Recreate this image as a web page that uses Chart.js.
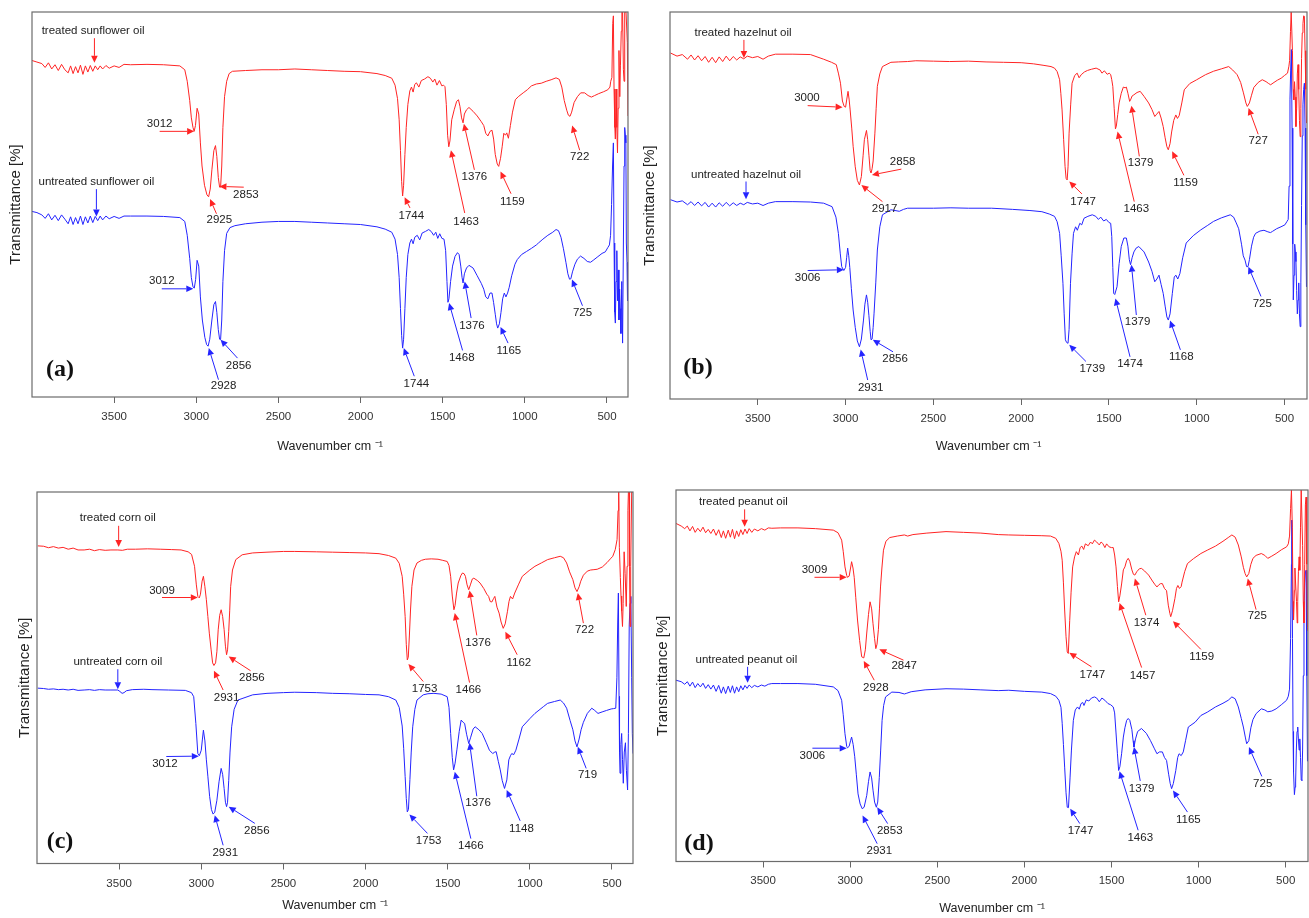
<!DOCTYPE html>
<html><head><meta charset="utf-8">
<script src="https://cdn.jsdelivr.net/npm/chart.js@4.4.1/dist/chart.umd.min.js"></script>
<style>
html,body{margin:0;padding:0;background:#fff;}
body{width:1309px;height:918px;position:relative;overflow:hidden;}
canvas{position:absolute;}
</style></head><body>
<canvas id="pa"></canvas><canvas id="pb"></canvas><canvas id="pc"></canvas><canvas id="pd"></canvas>
<script>
// ---------- axis ----------
const X_TICKS = [500, 1000, 1500, 2000, 2500, 3000, 3500];
const X_MIN = 372, X_MAX = 4000;

// ---------- panel (a) sunflower ----------
const aTreatedName = 'treated sunflower oil';
const aUntreatedName = 'untreated sunflower oil';
const aTreatedPeaks = ['3012','2925','2853','1744','1463','1376','1159','722'];
const aUntreatedPeaks = ['3012','2928','2856','1744','1468','1376','1165','725'];
const aTreated = [[4000,87.4],[3970,87.0],[3940,86.6],[3920,85.6],[3900,86.8],[3880,85.2],[3860,86.3],[3840,84.8],[3820,86.4],[3800,85.0],[3780,84.2],[3765,86.0],[3750,84.0],[3735,85.8],[3720,84.2],[3705,86.2],[3690,83.8],[3675,86.0],[3660,84.4],[3645,86.1],[3630,84.6],[3615,86.0],[3600,85.0],[3585,86.0],[3570,85.2],[3550,86.1],[3530,85.4],[3500,86.0],[3470,85.6],[3440,86.4],[3400,86.3],[3300,86.4],[3200,86.3],[3100,86.0],[3070,85.0],[3055,82.0],[3040,77.0],[3030,72.5],[3020,70.0],[3013,69.0],[3005,70.5],[2995,75.0],[2985,73.5],[2975,66.0],[2965,60.0],[2950,55.0],[2935,52.5],[2925,52.0],[2915,54.0],[2905,59.0],[2893,64.0],[2883,65.3],[2875,62.5],[2866,57.0],[2858,54.5],[2852,54.5],[2845,60.0],[2838,70.0],[2828,78.0],[2815,82.0],[2800,84.0],[2780,84.6],[2700,84.8],[2600,85.0],[2500,85.0],[2400,85.2],[2300,85.0],[2200,84.8],[2100,84.6],[2000,84.5],[1900,84.0],[1850,83.5],[1810,82.8],[1790,81.0],[1775,77.5],[1765,72.0],[1757,64.0],[1750,56.0],[1744,52.2],[1738,55.0],[1730,63.0],[1722,70.0],[1712,76.0],[1700,79.5],[1690,80.5],[1680,79.2],[1670,81.2],[1660,81.6],[1645,80.5],[1630,82.2],[1610,82.6],[1590,83.2],[1575,82.8],[1560,81.8],[1548,82.6],[1535,81.0],[1520,82.2],[1505,80.8],[1495,81.0],[1486,80.6],[1478,76.0],[1470,68.0],[1463,65.0],[1456,66.5],[1445,72.0],[1430,74.6],[1415,76.8],[1404,77.2],[1395,75.5],[1385,72.5],[1376,71.2],[1368,73.5],[1355,74.6],[1340,75.2],[1315,74.2],[1290,73.0],[1265,71.5],[1250,70.5],[1238,68.5],[1225,67.8],[1212,69.0],[1200,69.3],[1190,67.0],[1180,63.0],[1168,60.5],[1159,59.9],[1148,62.0],[1138,65.0],[1128,68.5],[1118,68.0],[1110,68.6],[1100,67.2],[1088,70.5],[1075,74.0],[1058,77.2],[1040,78.0],[1010,79.0],[985,79.8],[960,80.8],[930,81.3],[900,81.5],[870,82.0],[840,82.4],[810,82.9],[790,82.5],[775,80.5],[760,77.0],[745,74.5],[735,73.2],[725,72.9],[715,74.0],[700,76.5],[680,78.0],[660,79.0],[636,79.0],[615,78.3],[595,77.9],[575,78.3],[550,78.8],[520,79.3],[495,79.8],[482,80.5],[477,82.0],[470,83.0],[465,97.0],[461,99.0],[457,80.0],[452,70.0],[449,67.0],[444,80.0],[440,70.0],[436,63.4],[432,75.0],[427,90.0],[422,78.0],[418,86.0],[413,95.0],[409,100],[405,100],[400,85.0],[396,82.0],[392,100],[388,100],[384,100],[380,100],[376,92.0],[372,73.0]];
const aUntreated = [[4000,48.2],[3970,47.9],[3940,47.3],[3920,46.4],[3900,47.6],[3880,46.0],[3860,47.2],[3840,45.8],[3820,47.3],[3800,46.2],[3780,45.0],[3765,46.8],[3750,44.8],[3735,46.6],[3720,45.0],[3705,47.0],[3690,44.8],[3675,46.8],[3660,45.2],[3645,47.0],[3630,45.3],[3615,46.9],[3600,45.8],[3585,47.0],[3570,46.0],[3550,47.0],[3530,46.3],[3500,46.9],[3470,46.4],[3440,47.0],[3400,47.0],[3300,47.0],[3200,46.9],[3100,46.6],[3070,45.6],[3055,42.0],[3040,36.0],[3030,31.0],[3020,28.6],[3012,28.3],[3004,30.5],[2995,35.5],[2985,34.0],[2975,26.0],[2963,20.0],[2948,15.5],[2937,13.6],[2928,13.2],[2918,15.0],[2905,20.0],[2893,24.0],[2883,24.8],[2875,22.0],[2866,17.5],[2858,15.0],[2852,14.9],[2845,20.0],[2838,30.0],[2828,38.0],[2815,42.5],[2795,44.0],[2765,44.5],[2700,45.0],[2600,45.4],[2500,45.6],[2400,45.6],[2300,45.4],[2200,45.2],[2100,45.0],[2000,44.8],[1900,44.2],[1850,43.6],[1810,42.8],[1790,41.0],[1775,37.0],[1765,31.0],[1757,23.0],[1750,16.0],[1744,12.7],[1738,15.0],[1730,23.0],[1722,31.0],[1712,37.0],[1700,40.0],[1690,41.0],[1680,39.8],[1670,41.5],[1655,42.0],[1640,40.8],[1625,42.6],[1605,43.0],[1585,43.5],[1570,43.0],[1555,42.0],[1542,42.8],[1530,41.2],[1518,42.4],[1505,41.2],[1492,41.0],[1482,38.0],[1474,30.0],[1468,24.6],[1462,25.5],[1452,30.0],[1440,34.0],[1425,36.5],[1410,37.5],[1400,37.0],[1390,34.0],[1382,31.0],[1376,29.6],[1368,32.0],[1355,33.5],[1340,34.2],[1315,33.5],[1290,31.5],[1265,29.5],[1250,28.0],[1238,26.0],[1225,25.5],[1212,27.0],[1200,27.0],[1190,24.5],[1180,21.5],[1172,19.0],[1165,17.9],[1155,19.0],[1145,22.0],[1135,25.5],[1125,27.0],[1115,26.0],[1105,27.0],[1095,28.5],[1080,31.5],[1060,34.5],[1046,35.7],[1020,37.0],[990,37.8],[960,38.6],[930,39.5],[917,40.0],[890,41.0],[860,42.0],[830,42.8],[810,43.5],[795,43.2],[780,41.5],[765,38.5],[750,35.0],[738,32.0],[728,30.6],[720,30.7],[710,32.5],[695,34.5],[680,35.8],[661,36.6],[640,36.0],[620,35.2],[600,35.0],[584,35.5],[560,36.3],[530,37.3],[510,37.7],[495,38.8],[485,39.5],[478,42.0],[472,50.0],[466,60.0],[461,66.0],[457,40.0],[453,22.0],[449,19.2],[445,30.0],[440,38.0],[436,25.0],[431,33.0],[427,20.0],[423,28.0],[419,23.0],[415,16.5],[410,30.0],[405,14.0],[400,40.0],[396,60.0],[392,70.0],[388,68.0],[385,66.0],[382,40.0],[378,35.0],[375,25.0],[372,26.0]];

// ---------- panel (b) hazelnut ----------
const bTreatedName = 'treated hazelnut oil';
const bUntreatedName = 'untreated hazelnut oil';
const bTreatedPeaks = ['3000','2917','2858','1747','1463','1379','1159','727'];
const bUntreatedPeaks = ['3006','2931','2856','1739','1474','1379','1168','725'];
const bTreated = [[3997,89.4],[3960,88.6],[3930,89.0],[3900,87.8],[3880,88.9],[3860,87.6],[3840,88.7],[3820,87.4],[3800,88.5],[3780,87.0],[3760,88.3],[3740,86.9],[3720,88.4],[3700,87.2],[3680,88.6],[3660,87.4],[3640,88.5],[3620,87.6],[3600,88.4],[3580,87.9],[3560,88.6],[3530,88.2],[3500,88.5],[3470,87.8],[3440,88.6],[3400,89.1],[3300,89.1],[3200,89.0],[3125,87.8],[3080,87.0],[3053,86.4],[3040,84.0],[3029,81.6],[3018,77.0],[3008,75.6],[3000,75.4],[2993,77.5],[2986,79.5],[2980,77.5],[2974,74.7],[2965,70.0],[2957,65.3],[2945,60.0],[2933,56.5],[2921,55.3],[2910,57.5],[2900,63.0],[2893,67.0],[2881,69.4],[2874,67.0],[2867,63.0],[2860,59.0],[2855,58.4],[2849,59.5],[2843,61.5],[2833,68.7],[2826,75.0],[2819,80.8],[2805,84.0],[2790,85.9],[2742,87.0],[2700,87.1],[2647,87.2],[2600,87.4],[2500,87.3],[2407,87.2],[2300,87.3],[2200,87.1],[2100,87.0],[2000,86.9],[1929,86.6],[1870,86.2],[1830,85.9],[1810,85.5],[1795,84.6],[1781,82.5],[1774,79.0],[1767,74.7],[1758,67.0],[1750,60.1],[1744,57.0],[1738,56.6],[1733,60.0],[1727,68.7],[1718,76.0],[1710,81.6],[1695,83.6],[1681,84.2],[1670,83.0],[1658,83.8],[1640,84.5],[1622,84.9],[1600,85.2],[1573,85.5],[1550,85.0],[1540,84.2],[1526,84.8],[1510,83.9],[1498,84.2],[1490,83.8],[1484,82.5],[1478,80.8],[1470,75.0],[1463,69.8],[1458,70.5],[1450,73.5],[1442,76.5],[1430,79.0],[1418,80.6],[1408,80.4],[1401,80.6],[1392,79.0],[1382,76.9],[1375,77.5],[1368,78.3],[1358,78.6],[1340,79.2],[1322,79.5],[1300,78.2],[1274,76.5],[1255,74.8],[1239,73.0],[1228,73.6],[1215,74.3],[1203,72.6],[1191,70.4],[1180,67.5],[1170,65.2],[1162,64.4],[1152,66.0],[1143,69.0],[1131,72.0],[1119,73.4],[1110,72.5],[1100,73.2],[1085,76.5],[1071,79.9],[1040,81.5],[1000,82.5],[950,83.8],[904,84.7],[860,85.3],[818,85.9],[795,85.0],[770,83.8],[750,81.8],[734,79.1],[720,76.5],[712,75.6],[700,76.5],[688,78.5],[675,80.5],[650,81.8],[627,82.5],[605,82.0],[590,81.5],[579,81.2],[560,81.8],[540,82.4],[519,82.9],[500,83.6],[483,84.2],[475,86.0],[471,87.5],[466,95.0],[462,100],[459,100],[455,90.0],[451,80.0],[447,77.3],[443,82.0],[439,78.0],[435,70.4],[431,75.0],[427,84.0],[423,86.4],[419,80.0],[415,72.0],[411,67.8],[407,75.0],[403,88.0],[399,94.6],[395,97.0],[391,99.0],[387,98.9],[383,90.0],[379,80.0],[375,71.3],[372,72.0]];
const bUntreated = [[3997,51.5],[3960,50.9],[3930,51.2],[3900,50.2],[3880,51.0],[3860,50.0],[3840,50.9],[3820,49.9],[3800,50.8],[3780,49.6],[3760,50.6],[3740,49.6],[3720,50.7],[3700,49.8],[3680,50.8],[3660,49.9],[3640,50.7],[3620,50.0],[3600,50.6],[3580,50.2],[3560,50.8],[3530,50.4],[3500,50.6],[3470,50.0],[3440,50.6],[3400,51.0],[3300,51.0],[3200,50.9],[3125,50.6],[3077,49.7],[3055,47.0],[3041,42.8],[3030,37.5],[3022,34.2],[3010,33.2],[3000,34.0],[2994,36.5],[2988,39.0],[2982,37.0],[2976,34.0],[2967,28.5],[2957,23.0],[2945,18.5],[2933,15.0],[2921,13.5],[2910,15.5],[2898,20.4],[2890,24.5],[2881,26.9],[2874,25.0],[2867,21.5],[2860,17.5],[2855,15.3],[2849,15.5],[2843,18.5],[2838,22.0],[2828,30.0],[2819,38.5],[2805,44.5],[2790,47.6],[2742,48.9],[2694,48.5],[2670,49.0],[2647,49.3],[2500,49.3],[2400,49.4],[2300,49.3],[2168,49.3],[2050,49.0],[1950,48.7],[1882,48.4],[1840,47.8],[1810,47.2],[1795,45.8],[1781,42.8],[1772,37.0],[1762,29.9],[1755,22.0],[1748,15.3],[1741,14.6],[1733,14.4],[1727,18.0],[1719,29.9],[1710,37.5],[1702,42.8],[1690,44.5],[1680,43.6],[1666,45.4],[1655,45.0],[1642,46.7],[1620,47.2],[1595,47.6],[1575,47.2],[1560,46.4],[1547,47.0],[1530,46.0],[1515,46.4],[1500,45.6],[1490,45.4],[1484,42.0],[1478,34.0],[1473,27.3],[1467,27.0],[1454,29.0],[1442,35.0],[1430,39.4],[1415,41.6],[1401,41.6],[1392,39.5],[1384,36.0],[1377,34.7],[1368,36.5],[1358,38.0],[1345,39.0],[1330,39.4],[1300,38.0],[1274,35.4],[1255,33.0],[1239,30.3],[1227,31.0],[1215,32.0],[1203,29.6],[1191,27.3],[1180,24.0],[1170,21.2],[1162,20.4],[1152,22.0],[1139,27.3],[1128,31.5],[1119,32.0],[1108,31.0],[1096,32.4],[1080,36.5],[1060,40.3],[1020,42.2],[977,43.7],[940,44.8],[904,45.9],[860,46.8],[809,47.6],[790,47.0],[775,45.5],[761,44.0],[745,40.0],[735,37.0],[725,35.9],[716,34.2],[708,34.2],[700,36.0],[688,39.5],[676,41.8],[665,42.8],[640,43.4],[617,43.6],[595,43.2],[580,43.0],[569,43.3],[545,44.0],[520,44.5],[498,45.0],[487,45.8],[479,46.4],[474,55.0],[469,77.3],[465,85.0],[461,90.3],[457,70.0],[453,40.0],[450,25.6],[446,32.0],[442,40.0],[438,38.0],[435,35.5],[431,28.0],[427,22.0],[423,25.6],[419,30.0],[415,22.0],[411,18.7],[407,30.0],[403,50.0],[399,68.0],[395,76.0],[391,80.0],[387,81.6],[383,70.0],[379,45.0],[375,29.0],[372,30.0]];

// ---------- panel (c) corn ----------
const cTreatedName = 'treated corn oil';
const cUntreatedName = 'untreated corn oil';
const cTreatedPeaks = ['3009','2931','2856','1753','1466','1376','1162','722'];
const cUntreatedPeaks = ['3012','2931','2856','1753','1466','1376','1148','719'];
const cTreated = [[3995,85.5],[3960,85.4],[3930,85.0],[3900,85.3],[3870,84.9],[3841,85.1],[3810,84.6],[3780,84.9],[3750,84.4],[3713,84.4],[3680,84.6],[3650,84.2],[3620,84.5],[3585,84.3],[3550,84.4],[3508,84.4],[3480,84.3],[3450,84.6],[3400,84.6],[3328,84.7],[3250,84.6],[3180,84.5],[3123,84.4],[3080,83.9],[3059,83.2],[3041,80.0],[3030,75.0],[3021,71.9],[3012,71.5],[3005,72.5],[2995,76.0],[2987,77.3],[2978,74.5],[2969,71.0],[2960,66.5],[2951,62.0],[2940,57.5],[2931,54.0],[2923,53.3],[2913,54.0],[2905,57.0],[2897,62.9],[2888,66.8],[2879,68.3],[2870,66.5],[2861,63.0],[2853,58.5],[2846,56.2],[2840,57.5],[2833,62.5],[2827,68.0],[2821,74.6],[2810,79.0],[2790,81.8],[2751,83.1],[2687,83.6],[2600,83.8],[2500,84.0],[2431,84.0],[2300,83.9],[2200,83.8],[2100,83.7],[2000,83.6],[1918,83.4],[1860,82.9],[1816,82.2],[1795,80.8],[1777,77.3],[1768,72.5],[1759,66.5],[1752,59.0],[1746,54.8],[1740,55.5],[1733,61.5],[1726,68.5],[1718,74.6],[1705,79.0],[1687,80.9],[1660,81.6],[1636,81.9],[1600,82.0],[1559,81.9],[1530,81.6],[1503,81.3],[1492,80.2],[1482,77.3],[1472,72.0],[1462,68.3],[1455,69.5],[1446,72.8],[1436,75.5],[1420,77.5],[1410,78.2],[1400,78.0],[1392,77.3],[1382,75.0],[1372,73.7],[1362,75.0],[1350,76.6],[1341,76.8],[1320,76.2],[1303,75.5],[1280,74.0],[1262,72.5],[1251,71.9],[1241,70.5],[1231,70.4],[1221,71.3],[1213,71.9],[1200,69.0],[1187,67.4],[1175,65.0],[1162,63.3],[1150,64.5],[1136,67.9],[1127,70.5],[1118,71.9],[1105,71.2],[1092,72.8],[1070,75.0],[1046,77.3],[1000,79.0],[969,80.0],[930,80.9],[892,81.8],[850,82.3],[815,82.7],[795,82.3],[776,80.9],[758,78.5],[738,76.4],[725,74.2],[713,73.2],[700,74.5],[690,76.0],[674,77.6],[650,78.7],[630,79.0],[610,79.1],[590,79.2],[559,79.8],[530,81.0],[510,82.0],[495,82.7],[480,84.5],[469,87.2],[463,95.0],[459,100],[455,85.0],[449,77.0],[445,72.0],[441,68.0],[436,63.8],[432,70.0],[426,83.9],[420,78.0],[413,69.2],[408,80.0],[403,95.0],[400,100],[396,100],[393,80.0],[390,63.8],[386,80.0],[380,100],[376,100],[372,100]];
const cUntreated = [[3995,47.2],[3960,47.1],[3930,46.9],[3900,47.0],[3870,46.8],[3841,46.9],[3810,46.7],[3780,46.9],[3750,46.6],[3713,46.7],[3680,46.8],[3650,46.6],[3620,46.8],[3585,46.7],[3550,46.7],[3508,46.7],[3495,46.3],[3482,45.8],[3470,46.0],[3456,46.5],[3420,46.8],[3350,46.9],[3300,46.8],[3200,46.7],[3097,46.6],[3060,46.0],[3046,44.9],[3033,37.7],[3021,29.6],[3012,29.0],[3000,30.5],[2993,33.5],[2987,35.9],[2978,33.0],[2969,27.9],[2960,23.5],[2949,18.0],[2938,14.5],[2928,13.3],[2918,13.8],[2905,17.0],[2892,22.0],[2879,25.6],[2870,24.0],[2861,20.2],[2853,16.5],[2846,15.3],[2840,16.5],[2833,22.3],[2825,30.0],[2815,36.8],[2800,41.5],[2777,44.0],[2687,45.4],[2600,45.8],[2500,46.0],[2431,46.1],[2300,46.0],[2200,45.8],[2100,45.7],[2000,45.5],[1918,45.4],[1860,44.9],[1816,44.0],[1795,42.0],[1777,37.0],[1768,31.0],[1759,23.4],[1752,17.5],[1746,13.9],[1739,14.5],[1730,22.6],[1722,30.0],[1713,36.8],[1700,41.5],[1687,44.0],[1649,45.4],[1620,45.7],[1584,45.8],[1540,45.6],[1503,44.9],[1492,42.0],[1482,35.0],[1472,28.5],[1464,25.2],[1455,27.0],[1444,30.6],[1430,35.5],[1418,38.6],[1406,38.0],[1397,37.7],[1385,34.8],[1372,32.3],[1360,34.0],[1345,36.2],[1333,36.8],[1310,36.0],[1290,35.0],[1265,32.5],[1246,30.5],[1226,29.6],[1213,30.0],[1205,30.1],[1192,27.5],[1180,25.2],[1168,22.3],[1154,20.2],[1140,22.5],[1128,27.9],[1118,29.0],[1110,29.6],[1098,29.3],[1085,30.5],[1066,33.5],[1046,36.8],[1000,39.0],[969,40.4],[918,42.2],[892,43.1],[850,43.6],[815,44.0],[795,43.2],[776,41.8],[755,38.5],[738,36.0],[725,33.0],[713,31.4],[700,33.5],[688,36.0],[674,38.0],[650,40.4],[623,41.8],[605,41.2],[585,40.4],[560,40.8],[533,41.2],[505,41.6],[490,41.7],[477,41.8],[470,50.0],[465,65.0],[461,72.8],[457,45.0],[454,30.0],[451,24.3],[446,32.0],[441,35.0],[436,28.0],[431,21.6],[425,30.0],[418,32.5],[412,25.0],[405,19.8],[400,35.0],[395,64.2],[390,70.0],[385,71.9],[380,50.0],[376,35.0],[372,29.6]];

// ---------- panel (d) peanut ----------
const dTreatedName = 'treated peanut oil';
const dUntreatedName = 'untreated peanut oil';
const dTreatedPeaks = ['3009','2928','2847','1747','1457','1374','1159','725'];
const dUntreatedPeaks = ['3006','2931','2853','1747','1463','1379','1165','725'];
const dTreated = [[4000,91.0],[3970,90.3],[3950,89.6],[3935,90.3],[3920,89.0],[3905,90.2],[3890,88.6],[3875,89.7],[3860,88.8],[3845,90.0],[3830,88.5],[3815,89.4],[3800,88.3],[3785,89.5],[3770,87.8],[3755,89.3],[3740,87.2],[3728,89.0],[3715,87.0],[3700,89.2],[3688,87.3],[3676,89.4],[3664,86.9],[3652,89.0],[3640,87.5],[3628,89.3],[3616,88.0],[3604,89.5],[3592,88.3],[3580,89.6],[3565,88.6],[3550,89.5],[3530,89.0],[3510,89.6],[3490,89.2],[3470,89.8],[3450,89.7],[3400,89.8],[3300,89.8],[3200,89.6],[3097,89.2],[3070,88.5],[3049,86.5],[3040,83.5],[3030,79.3],[3020,77.0],[3016,76.5],[3006,76.8],[2998,79.0],[2992,80.7],[2984,79.0],[2977,76.5],[2968,71.0],[2958,65.0],[2946,59.5],[2934,55.1],[2922,54.8],[2913,57.0],[2905,61.5],[2895,66.5],[2886,69.9],[2877,68.0],[2869,64.0],[2860,60.0],[2853,57.3],[2846,58.5],[2838,62.5],[2832,68.0],[2826,73.9],[2818,79.0],[2809,83.8],[2795,86.2],[2773,87.2],[2730,87.6],[2689,87.9],[2670,87.6],[2640,88.0],[2560,88.4],[2450,88.8],[2350,88.6],[2250,88.4],[2150,88.0],[2090,87.9],[2000,87.8],[1900,87.7],[1850,87.6],[1820,87.0],[1802,85.6],[1790,83.5],[1783,81.1],[1776,75.0],[1769,67.7],[1761,60.5],[1754,56.4],[1748,56.0],[1740,64.8],[1732,72.5],[1723,79.3],[1712,82.0],[1702,83.4],[1690,82.5],[1680,84.5],[1670,84.9],[1660,84.0],[1650,85.5],[1634,85.0],[1620,86.0],[1610,85.5],[1598,86.5],[1585,86.0],[1570,85.2],[1560,86.0],[1550,85.6],[1538,84.5],[1528,85.5],[1514,84.7],[1500,84.5],[1490,84.5],[1482,82.5],[1474,79.3],[1466,74.0],[1459,69.9],[1452,71.5],[1442,74.7],[1432,78.5],[1423,79.3],[1413,81.0],[1404,81.6],[1395,80.8],[1383,78.5],[1374,77.3],[1366,77.1],[1355,78.0],[1340,78.8],[1328,78.9],[1310,78.2],[1287,77.1],[1265,75.5],[1250,74.5],[1239,73.9],[1228,74.5],[1218,74.8],[1208,74.8],[1196,73.5],[1184,72.9],[1174,69.0],[1165,66.8],[1160,65.9],[1150,67.5],[1136,70.8],[1127,73.5],[1119,74.3],[1110,73.5],[1100,74.0],[1095,75.2],[1080,78.0],[1064,80.2],[1030,81.5],[987,82.9],[950,83.8],[903,84.9],[860,86.2],[830,87.2],[809,87.9],[790,87.3],[772,85.2],[755,82.0],[743,79.2],[733,77.5],[724,76.6],[712,77.5],[700,80.0],[688,81.6],[670,82.4],[640,82.9],[620,82.4],[603,81.6],[580,82.2],[555,82.9],[525,83.9],[495,84.7],[485,85.5],[478,87.6],[472,95.0],[467,100],[462,90.0],[458,70.0],[455,65.0],[450,73.0],[447,79.0],[443,74.7],[438,70.0],[434,64.2],[431,70.0],[427,78.0],[423,82.0],[419,78.4],[415,90.0],[411,100],[407,100],[403,85.0],[399,70.0],[395,64.2],[391,80.0],[387,96.0],[383,98.1],[379,80.0],[375,63.0],[372,62.0]];
const dUntreated = [[4000,48.8],[3970,48.4],[3950,47.7],[3935,48.4],[3920,47.2],[3905,48.3],[3890,46.8],[3875,47.9],[3860,47.0],[3845,48.0],[3830,46.6],[3815,47.6],[3800,46.4],[3785,47.5],[3770,45.8],[3755,47.4],[3740,45.3],[3728,47.0],[3715,45.2],[3700,47.2],[3688,45.5],[3676,47.3],[3664,45.3],[3652,47.0],[3640,45.7],[3628,47.3],[3616,46.2],[3604,47.4],[3592,46.6],[3580,47.5],[3565,46.8],[3550,47.4],[3530,47.0],[3510,47.5],[3490,47.2],[3470,47.7],[3450,47.9],[3400,47.9],[3300,47.9],[3200,47.7],[3097,47.0],[3070,46.0],[3049,43.4],[3040,39.5],[3030,34.4],[3020,31.0],[3016,30.6],[3006,31.0],[2998,32.5],[2992,33.5],[2983,31.5],[2974,28.2],[2965,23.5],[2955,18.2],[2943,15.5],[2931,14.2],[2920,14.6],[2905,17.8],[2895,21.5],[2886,24.1],[2877,22.5],[2869,19.2],[2860,16.0],[2850,14.6],[2842,16.0],[2833,22.6],[2825,30.0],[2817,38.0],[2808,42.0],[2797,44.3],[2761,45.6],[2720,45.5],[2689,45.1],[2675,45.3],[2650,45.7],[2570,46.2],[2450,46.5],[2350,46.4],[2250,46.2],[2150,46.0],[2090,46.1],[2000,45.8],[1900,45.6],[1850,45.2],[1820,44.5],[1802,43.4],[1790,41.5],[1783,37.2],[1776,31.5],[1769,25.4],[1761,18.5],[1754,14.6],[1747,14.5],[1738,22.5],[1730,30.0],[1719,38.0],[1708,40.8],[1695,41.6],[1685,41.0],[1675,42.5],[1665,42.8],[1658,42.0],[1645,43.5],[1630,43.2],[1615,44.0],[1598,44.3],[1585,44.0],[1570,43.0],[1555,44.0],[1538,43.4],[1520,42.5],[1505,42.2],[1490,41.6],[1482,40.0],[1474,34.6],[1466,29.0],[1459,24.5],[1452,25.5],[1442,29.0],[1432,33.5],[1423,36.0],[1413,38.0],[1404,38.5],[1395,38.0],[1383,35.5],[1376,32.5],[1371,30.8],[1362,33.0],[1350,35.0],[1328,35.8],[1300,34.5],[1277,32.6],[1255,30.5],[1239,29.0],[1225,29.5],[1208,29.5],[1196,28.0],[1184,27.2],[1172,23.5],[1163,21.0],[1155,19.6],[1145,21.0],[1131,24.5],[1120,28.0],[1112,29.0],[1100,28.5],[1088,29.5],[1075,32.5],[1059,36.2],[1020,37.5],[987,39.3],[950,40.2],[903,41.6],[860,42.6],[830,43.4],[809,44.3],[790,43.8],[772,41.6],[755,38.5],[743,36.2],[732,33.5],[724,31.7],[712,32.5],[700,36.0],[688,38.2],[670,39.8],[640,41.1],[620,40.8],[603,40.3],[580,40.5],[555,41.1],[525,42.2],[495,43.4],[485,44.5],[478,46.4],[472,60.0],[467,80.0],[465,91.9],[461,60.0],[458,35.0],[455,24.1],[450,18.0],[446,20.0],[443,21.4],[439,30.0],[435,35.0],[431,36.2],[427,33.0],[423,30.0],[419,33.0],[415,28.0],[411,22.0],[407,21.8],[403,30.0],[399,50.0],[395,68.5],[391,75.0],[387,78.0],[383,78.4],[379,50.0],[375,27.0],[372,30.0]];

// ---------- annotation placement (label wn,T ; arrow start wn,T ; arrow tip wn,T) ----------
const NOTE_POS = {
  a: {
    treated: [[3628,95.0,3620,93.2,3620,86.8],[3223,71.0,3223,69.0,3013,69.0],[2860,45.9,2877,47.6,2916,51.4],[2698,52.6,2711,54.5,2859,54.7],[1691,47.1,1699,49.1,1732,51.9],[1358,45.6,1366,47.8,1450,64.1],[1307,57.3,1307,59.0,1371,71.0],[1076,50.8,1084,52.8,1148,58.6],[666,62.5,666,64.1,712,70.5]],
    untreated: [[3608,55.8,3608,54.0,3608,46.9],[3210,30.3,3210,28.1,3018,28.1],[2834,2.8,2865,4.5,2924,12.7],[2742,8.2,2749,10.1,2852,14.9],[1660,3.5,1673,5.4,1737,12.7],[1384,10.1,1379,12.1,1461,24.4],[1322,18.5,1327,20.5,1366,30.0],[1097,12.0,1102,14.0,1148,18.2],[649,21.8,649,23.7,713,30.5]]
  },
  b: {
    treated: [[3584,94.6,3579,92.8,3579,88.1],[3220,77.8,3216,75.8,3017,75.4],[2778,49.1,2790,51.0,2910,55.3],[2675,61.2,2682,59.4,2850,57.9],[1647,51.0,1654,53.0,1726,56.2],[1344,49.1,1356,51.0,1451,69.1],[1320,60.9,1327,62.7,1372,75.8],[1064,55.9,1073,57.8,1140,64.0],[650,66.7,650,68.4,705,75.2]],
    untreated: [[3567,57.9,3567,56.2,3567,51.6],[3216,31.2,3216,33.2,3010,33.4],[2857,3.0,2874,4.9,2914,12.8],[2718,10.3,2730,12.2,2845,15.3],[1595,7.8,1631,9.7,1726,14.0],[1380,9.1,1380,10.9,1463,26.0],[1337,20.0,1344,21.7,1372,34.7],[1088,10.8,1093,12.7,1152,20.3],[627,24.6,634,26.5,706,34.2]]
  },
  c: {
    treated: [[3508,93.0,3503,90.9,3503,85.2],[3239,73.5,3239,71.6,3021,71.6],[2846,44.7,2867,46.7,2923,51.9],[2692,50.0,2700,51.9,2833,55.7],[1641,46.9,1649,49.0,1739,53.7],[1374,46.7,1367,48.7,1457,67.4],[1315,59.5,1323,61.4,1367,73.5],[1067,54.1,1077,56.2,1149,62.4],[667,62.9,674,64.7,708,72.8]],
    untreated: [[3508,54.2,3508,52.3,3508,46.9],[3221,26.8,3213,28.8,3015,28.9],[2854,2.9,2867,4.9,2918,13.0],[2662,8.8,2674,10.8,2833,15.3],[1616,6.0,1623,8.1,1733,13.2],[1359,4.7,1359,6.7,1457,24.7],[1315,16.2,1323,18.1,1367,32.5],[1051,9.4,1059,11.5,1141,19.8],[649,23.8,657,25.6,708,31.4]]
  },
  d: {
    treated: [[3613,96.7,3606,94.8,3606,90.1],[3205,78.4,3205,76.5,3020,76.5],[2853,46.8,2862,48.8,2922,54.0],[2690,52.6,2694,54.2,2833,57.1],[1610,50.3,1615,52.4,1742,56.2],[1322,50.1,1327,52.2,1454,69.6],[1299,64.3,1303,66.3,1366,76.2],[982,55.1,987,57.1,1147,64.7],[663,66.1,670,67.8,718,76.2]],
    untreated: [[3596,54.4,3589,52.4,3589,48.1],[3217,28.4,3217,30.5,3020,30.5],[2833,2.8,2845,4.8,2929,12.4],[2773,8.2,2785,10.2,2845,14.6],[1678,8.2,1682,10.2,1737,14.2],[1335,6.4,1347,8.4,1454,24.3],[1327,19.6,1335,21.7,1371,30.8],[1059,11.2,1064,13.3,1147,19.1],[632,20.9,637,22.9,711,30.8]]
  }
};

// ---------- styling / layout ----------
const RED = '#ff2424', BLUE = '#2424ff';
const FONT = '"Liberation Sans", Arial, Helvetica, sans-serif';
const PANELS = [
  {id:'pa', key:'a', letter:'(a)', cl:0,   ct:10,  cw:631, ch:444, pt:2, pr:3, yw:32, ytp:6.6, yfs:15, tp:7, xh:57, lfs:24, ldx:28, ldy:-27,
   names:[aTreatedName,aUntreatedName], peaks:[aTreatedPeaks,aUntreatedPeaks], series:[aTreated,aUntreated]},
  {id:'pb', key:'b', letter:'(b)', cl:640, ct:10,  cw:669, ch:444, pt:2, pr:2, yw:30, ytp:1,   yfs:15, tp:7, xh:55, lfs:24, ldx:28, ldy:-31,
   names:[bTreatedName,bUntreatedName], peaks:[bTreatedPeaks,bUntreatedPeaks], series:[bTreated,bUntreated]},
  {id:'pc', key:'c', letter:'(c)', cl:0,   ct:490, cw:636, ch:423, pt:2, pr:3, yw:37, ytp:15.5, yfs:15, tp:7, xh:49.5, lfs:24, ldx:23, ldy:-22,
   names:[cTreatedName,cUntreatedName], peaks:[cTreatedPeaks,cUntreatedPeaks], series:[cTreated,cUntreated]},
  {id:'pd', key:'d', letter:'(d)', cl:645, ct:488, cw:664, ch:428, pt:2, pr:1, yw:31, ytp:9,   yfs:15, tp:6, xh:54.5, lfs:24, ldx:23, ldy:-18,
   names:[dTreatedName,dUntreatedName], peaks:[dTreatedPeaks,dUntreatedPeaks], series:[dTreated,dUntreated]}
];

const notesPlugin = {
  id: 'oilNotes',
  afterDatasetsDraw(chart, args, opts) {
    const {ctx, chartArea: ca} = chart;
    const xs = chart.scales.x, ys = chart.scales.y;
    ctx.save();
    ctx.strokeStyle = '#6c6c6c'; ctx.lineWidth = 1.2;
    ctx.strokeRect(ca.left, ca.top, ca.right - ca.left, ca.bottom - ca.top);
    ctx.font = '11.5px ' + FONT;
    ctx.textAlign = 'center'; ctx.textBaseline = 'middle';
    opts.groups.forEach(g => {
      g.texts.forEach((txt, i) => {
        const P = g.pos[i];
        const lx = xs.getPixelForValue(P[0]), ly = ys.getPixelForValue(P[1]);
        const sx = xs.getPixelForValue(P[2]), sy = ys.getPixelForValue(P[3]);
        const tx = xs.getPixelForValue(P[4]), ty = ys.getPixelForValue(P[5]);
        ctx.strokeStyle = g.color; ctx.fillStyle = g.color; ctx.lineWidth = 1;
        const ang = Math.atan2(ty - sy, tx - sx);
        const hl = 7, hw = 3.3;
        const bx = tx - hl * Math.cos(ang), by = ty - hl * Math.sin(ang);
        ctx.beginPath(); ctx.moveTo(sx, sy); ctx.lineTo(bx, by); ctx.stroke();
        ctx.beginPath(); ctx.moveTo(tx, ty);
        ctx.lineTo(bx + hw * Math.sin(ang), by - hw * Math.cos(ang));
        ctx.lineTo(bx - hw * Math.sin(ang), by + hw * Math.cos(ang));
        ctx.closePath(); ctx.fill();
        ctx.fillStyle = '#222';
        ctx.fillText(txt, lx, ly);
      });
    });
    ctx.font = 'bold ' + opts.letterSize + 'px "Liberation Serif", "Times New Roman", serif';
    ctx.fillStyle = '#111';
    ctx.fillText(opts.letter, ca.left + opts.letterDx, ca.bottom + opts.letterDy);
    ctx.restore();
  }
};

function toXY(arr) { return arr.map(p => ({x: p[0], y: p[1]})); }

PANELS.forEach(p => {
  const cv = document.getElementById(p.id);
  cv.width = p.cw; cv.height = p.ch;
  cv.style.left = p.cl + 'px'; cv.style.top = p.ct + 'px';
  cv.style.width = p.cw + 'px'; cv.style.height = p.ch + 'px';
  const pos = NOTE_POS[p.key];
  new Chart(cv, {
    type: 'line',
    data: {datasets: [
      {label: p.names[0], data: toXY(p.series[0]), borderColor: RED, borderWidth: 1, pointRadius: 0, tension: 0, fill: false},
      {label: p.names[1], data: toXY(p.series[1]), borderColor: BLUE, borderWidth: 1, pointRadius: 0, tension: 0, fill: false}
    ]},
    options: {
      responsive: false, animation: false, events: [],
      layout: {padding: {left: 0, top: p.pt, right: p.pr, bottom: 0}},
      plugins: {
        legend: {display: false}, tooltip: {enabled: false},
        oilNotes: {
          letter: p.letter, letterSize: p.lfs, letterDx: p.ldx, letterDy: p.ldy,
          groups: [
            {color: RED, texts: [p.names[0]].concat(p.peaks[0]), pos: pos.treated},
            {color: BLUE, texts: [p.names[1]].concat(p.peaks[1]), pos: pos.untreated}
          ]
        }
      },
      scales: {
        x: {
          type: 'linear', reverse: true, min: X_MIN, max: X_MAX,
          afterBuildTicks: s => { s.ticks = X_TICKS.map(v => ({value: v})); },
          afterFit: s => { s.height = p.xh; },
          ticks: {autoSkip: false, maxRotation: 0, minRotation: 0, padding: p.tp, color: '#333',
                  font: {family: FONT, size: 11.5}, callback: v => String(v)},
          grid: {display: true, drawOnChartArea: false, drawTicks: true, tickLength: 6, color: '#666', lineWidth: 1},
          border: {display: false},
          title: {display: true, text: 'Wavenumber cm \u207B\u00B9', color: '#222',
                  font: {family: FONT, size: 12.5}, padding: {top: 0, bottom: 0}}
        },
        y: {
          min: 0, max: 100,
          afterFit: s => { s.width = p.yw; },
          ticks: {display: false}, grid: {display: false}, border: {display: false},
          title: {display: true, text: 'Transmittance [%]', color: '#222',
                  font: {family: FONT, size: p.yfs}, padding: {top: p.ytp, bottom: 0}}
        }
      }
    },
    plugins: [notesPlugin]
  });
});
</script>
</body></html>
